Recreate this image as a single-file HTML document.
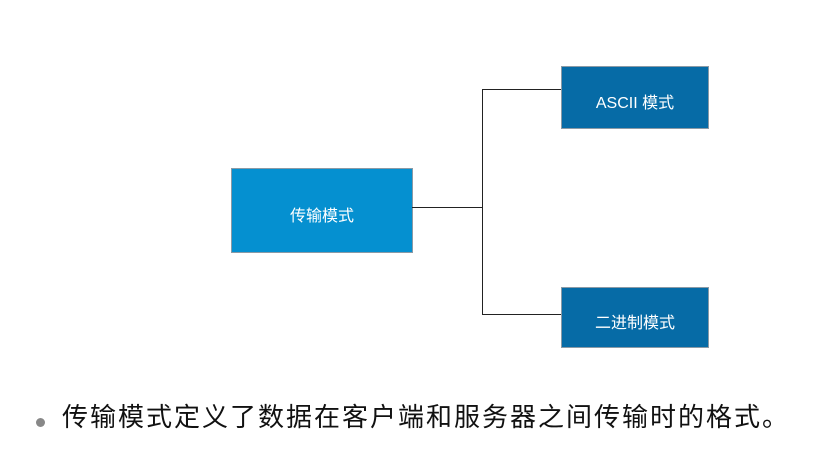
<!DOCTYPE html>
<html><head><meta charset="utf-8"><style>
body{margin:0;width:839px;height:459px;background:#fff;position:relative;overflow:hidden;font-family:"Liberation Sans","Noto Sans CJK SC",sans-serif}
.b{position:absolute;box-sizing:border-box;border:1px solid #8a9aa6;color:#fff;display:flex;align-items:center;justify-content:center;font-size:16px}
.l{position:absolute;background:#222}
</style></head><body>
<div class="b" style="left:231px;top:168px;width:182px;height:85px;background:#0590d0;padding-top:6px">传输模式</div>
<div class="b" style="left:561px;top:66px;width:148px;height:63px;background:#066ba6;padding-top:6px">ASCII 模式</div>
<div class="b" style="left:561px;top:287px;width:148px;height:61px;background:#066ba6;padding-top:6px">二进制模式</div>
<div class="l" style="left:412px;top:207px;width:71px;height:1px"></div>
<div class="l" style="left:482px;top:89px;width:1px;height:226px"></div>
<div class="l" style="left:482px;top:89px;width:79px;height:1px"></div>
<div class="l" style="left:482px;top:314px;width:79px;height:1px"></div>
<div style="position:absolute;left:36px;top:418px;width:9px;height:9px;border-radius:50%;background:#888"></div>
<div style="position:absolute;left:62px;top:402px;font-size:26px;letter-spacing:2px;line-height:30px;color:#111;white-space:nowrap">传输模式定义了数据在客户端和服务器之间传输时的格式。</div>
</body></html>
